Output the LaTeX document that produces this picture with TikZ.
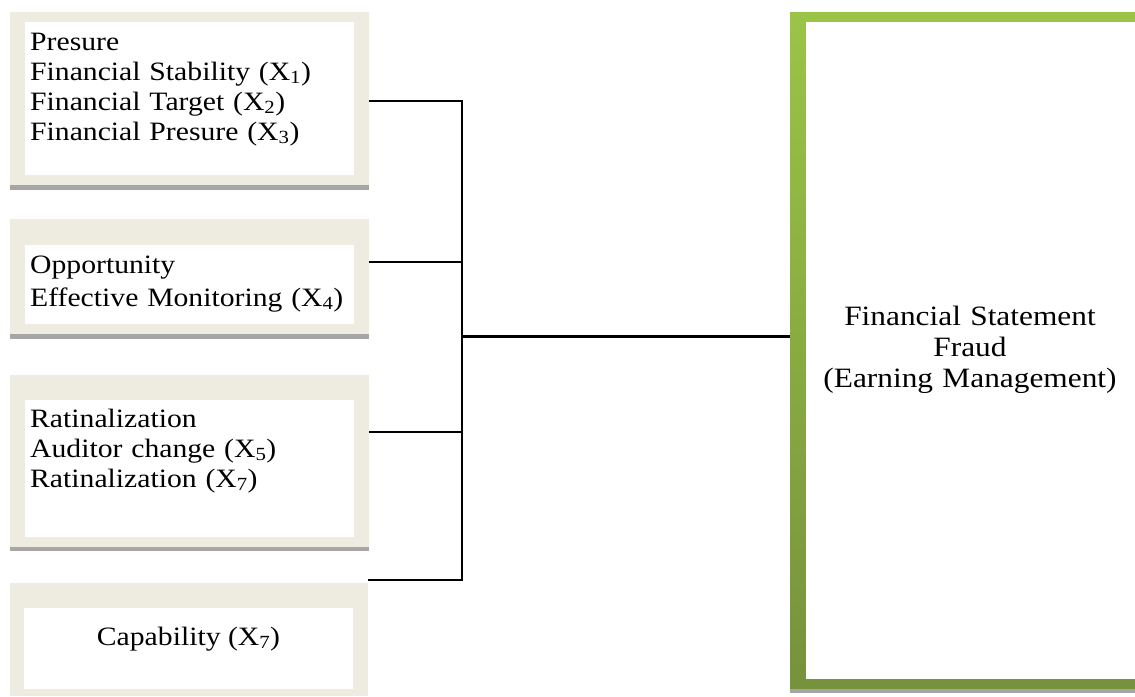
\documentclass[tikz,border=0pt]{standalone}
\usepackage{fontspec}
\setmainfont[FakeStretch=1.12]{Liberation Serif}
\definecolor{beige}{HTML}{EEECE1}
\definecolor{barg}{HTML}{A6A6A6}
\definecolor{gtop}{HTML}{9BC447}
\definecolor{gbot}{HTML}{76923C}
\tikzset{
  outerbox/.style={fill=beige, inner sep=0pt, anchor=north west, minimum width=359pt},
  txt/.style={inner sep=0pt, text width=325pt, align=left, anchor=base west, font=\fontsize{26.5}{30}\selectfont},
  conn/.style={draw=black, line width=2pt},
  mainconn/.style={draw=black, line width=3pt}
}
\begin{document}
\begin{tikzpicture}[x=1pt,y=-1pt]
\useasboundingbox[fill=white] (0,0) rectangle (1135,696);

% left boxes
\node[outerbox, minimum height=173pt] (b1) at (10,12) {};
\fill[barg] (b1.south west) rectangle ++(359,5);
\fill[white] (25,22) rectangle (354,175);

\node[outerbox, minimum height=115pt] (b2) at (10,219) {};
\fill[barg] (b2.south west) rectangle ++(359,5);
\fill[white] (25,245) rectangle (354,324);

\node[outerbox, minimum height=172pt] (b3) at (10,375) {};
\fill[barg] (b3.south west) rectangle ++(359,4);
\fill[white] (25,400) rectangle (354,537);

\node[outerbox, minimum width=358pt, minimum height=113pt] (b4) at (10,583) {};
\fill[white] (24,608) rectangle (353,689);

% big box
\node[inner sep=0pt, minimum width=345pt, minimum height=677pt, anchor=north west] (fsf) at (790,12) {};
\shade[top color=gtop, bottom color=gbot] (fsf.north west) rectangle (fsf.south east);
\fill[white] (806,22) rectangle (1135,679);
\fill[barg] (fsf.south west) rectangle ++(345,4);

% texts
\node[txt] (t1) at (30,50) {Presure\\Financial Stability (X\textsubscript{1})\\Financial Target (X\textsubscript{2})\\Financial Presure (X\textsubscript{3})};
\node[txt, font=\fontsize{26.5}{33}\selectfont] (t2) at (30,273) {Opportunity\\Effective Monitoring (X\textsubscript{4})};
\node[txt] (t3) at (30,427) {Ratinalization\\Auditor change (X\textsubscript{5})\\Ratinalization (X\textsubscript{7})};
\node[inner sep=0pt, anchor=base, font=\fontsize{26.5}{30}\selectfont] (t4) at (188.5,645) {Capability (X\textsubscript{7})};
\node[inner sep=0pt, anchor=base, text width=330pt, align=center, font=\fontsize{28}{31}\selectfont] (t5) at (970,325) {Financial Statement\\Fraud\\(Earning Management)};

% connectors
\coordinate (j1) at (462,101);
\coordinate (j2) at (462,262);
\coordinate (jm) at (462,336);
\coordinate (j3) at (462,432);
\coordinate (j4) at (462,580);
\draw[conn] (b1.east |- j1) -- (j1) -- (j4) -- (b4.east |- j4);
\draw[conn] (b2.east |- j2) -- (j2);
\draw[conn] (b3.east |- j3) -- (j3);
\draw[mainconn] (jm) -- (fsf.west |- jm);
\end{tikzpicture}
\end{document}
